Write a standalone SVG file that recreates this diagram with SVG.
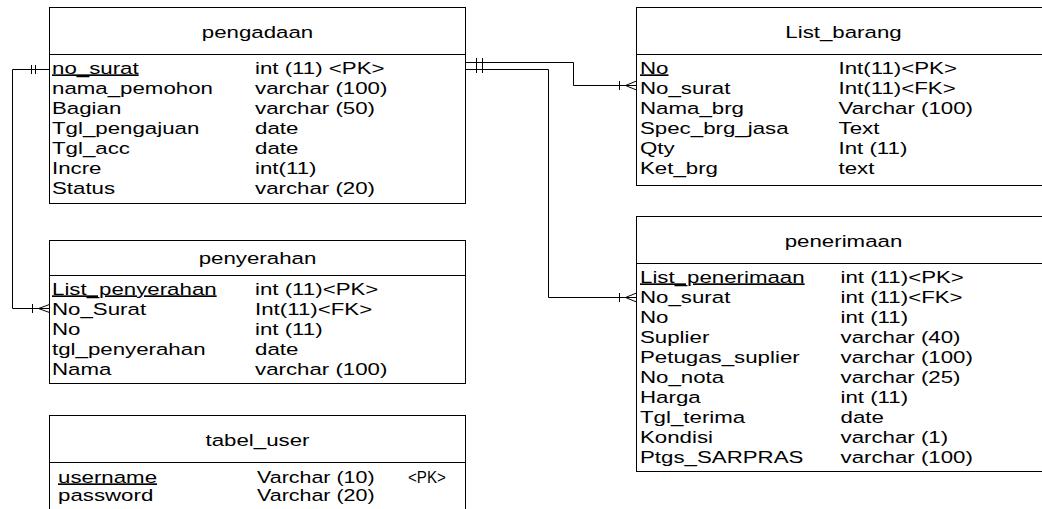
<svg xmlns="http://www.w3.org/2000/svg" width="1042" height="509" viewBox="0 0 1042 509">
<style>
.t{font-family:"Liberation Sans",Arial,sans-serif;font-size:16.5px;fill:#000}
.u{text-decoration:underline}
.c{text-anchor:middle}
.box{fill:#fff;stroke:#000;stroke-width:1}
.ln{fill:none;stroke:#000;stroke-width:1}
</style>
<rect width="1042" height="509" fill="#fff"/>
<g id="connectors" class="ln">
  <path d="M49.5 69.5H12.5V308.5H49.5"/>
  <path d="M31.5 65V74M35.5 65V74"/>
  <path d="M32.5 304V313M49.5 304.5L38.5 308.5L49.5 312.5"/>
  <path d="M465.5 62.5H573.5V85.5H636.5"/>
  <path d="M619.5 81V90M636.5 81L625.5 85.5L636.5 90"/>
  <path d="M465.5 69.5H548.5V297.5H636.5"/>
  <path d="M619.5 293V302M636.5 293L625.5 297.5L636.5 302"/>
  <path d="M476.5 58V73M482.5 58V73"/>
</g>
<g id="pengadaan">
  <rect class="box" x="49.5" y="7.5" width="416" height="196"/>
  <path class="ln" d="M49.5 54.5H465.5"/>
  <text class="t c" transform="translate(257.5 37.5) scale(1.35 1)">pengadaan</text>
  <text class="t u" transform="translate(52 73.5) scale(1.35 1)">no_surat</text>
  <text class="t" transform="translate(52 93.5) scale(1.35 1)">nama_pemohon</text>
  <text class="t" transform="translate(52 113.5) scale(1.35 1)">Bagian</text>
  <text class="t" transform="translate(52 133.5) scale(1.35 1)">Tgl_pengajuan</text>
  <text class="t" transform="translate(52 153.5) scale(1.35 1)">Tgl_acc</text>
  <text class="t" transform="translate(52 173.5) scale(1.35 1)">Incre</text>
  <text class="t" transform="translate(52 193.5) scale(1.35 1)">Status</text>
  <text class="t" transform="translate(255 73.5) scale(1.35 1)">int (11) &lt;PK&gt;</text>
  <text class="t" transform="translate(255 93.5) scale(1.35 1)">varchar (100)</text>
  <text class="t" transform="translate(255 113.5) scale(1.35 1)">varchar (50)</text>
  <text class="t" transform="translate(255 133.5) scale(1.35 1)">date</text>
  <text class="t" transform="translate(255 153.5) scale(1.35 1)">date</text>
  <text class="t" transform="translate(255 173.5) scale(1.35 1)">int(11)</text>
  <text class="t" transform="translate(255 193.5) scale(1.35 1)">varchar (20)</text>
</g>
<g id="List_barang">
  <rect class="box" x="636.5" y="7.5" width="414" height="178"/>
  <path class="ln" d="M636.5 54.5H1050"/>
  <text class="t c" transform="translate(843.5 37.5) scale(1.35 1)">List_barang</text>
  <text class="t u" transform="translate(640 73.5) scale(1.35 1)">No</text>
  <text class="t" transform="translate(640 93.5) scale(1.35 1)">No_surat</text>
  <text class="t" transform="translate(640 113.5) scale(1.35 1)">Nama_brg</text>
  <text class="t" transform="translate(640 133.5) scale(1.35 1)">Spec_brg_jasa</text>
  <text class="t" transform="translate(640 153.5) scale(1.35 1)">Qty</text>
  <text class="t" transform="translate(640 173.5) scale(1.35 1)">Ket_brg</text>
  <text class="t" transform="translate(838.5 73.5) scale(1.35 1)">Int(11)&lt;PK&gt;</text>
  <text class="t" transform="translate(838.5 93.5) scale(1.35 1)">Int(11)&lt;FK&gt;</text>
  <text class="t" transform="translate(838.5 113.5) scale(1.35 1)">Varchar (100)</text>
  <text class="t" transform="translate(838.5 133.5) scale(1.35 1)">Text</text>
  <text class="t" transform="translate(838.5 153.5) scale(1.35 1)">Int (11)</text>
  <text class="t" transform="translate(838.5 173.5) scale(1.35 1)">text</text>
</g>
<g id="penyerahan">
  <rect class="box" x="49.5" y="240.5" width="416" height="143"/>
  <path class="ln" d="M49.5 275.5H465.5"/>
  <text class="t c" transform="translate(257.5 263.5) scale(1.35 1)">penyerahan</text>
  <text class="t u" transform="translate(52 294.5) scale(1.35 1)">List_penyerahan</text>
  <text class="t" transform="translate(52 314.5) scale(1.35 1)">No_Surat</text>
  <text class="t" transform="translate(52 334.5) scale(1.35 1)">No</text>
  <text class="t" transform="translate(52 354.5) scale(1.35 1)">tgl_penyerahan</text>
  <text class="t" transform="translate(52 374.5) scale(1.35 1)">Nama</text>
  <text class="t" transform="translate(255 294.5) scale(1.35 1)">int (11)&lt;PK&gt;</text>
  <text class="t" transform="translate(255 314.5) scale(1.35 1)">Int(11)&lt;FK&gt;</text>
  <text class="t" transform="translate(255 334.5) scale(1.35 1)">int (11)</text>
  <text class="t" transform="translate(255 354.5) scale(1.35 1)">date</text>
  <text class="t" transform="translate(255 374.5) scale(1.35 1)">varchar (100)</text>
</g>
<g id="penerimaan">
  <rect class="box" x="636.5" y="216.5" width="414" height="255"/>
  <path class="ln" d="M636.5 263.5H1050"/>
  <text class="t c" transform="translate(843.5 246.5) scale(1.35 1)">penerimaan</text>
  <text class="t u" transform="translate(640 282.5) scale(1.35 1)">List_penerimaan</text>
  <text class="t" transform="translate(640 302.5) scale(1.35 1)">No_surat</text>
  <text class="t" transform="translate(640 322.5) scale(1.35 1)">No</text>
  <text class="t" transform="translate(640 342.5) scale(1.35 1)">Suplier</text>
  <text class="t" transform="translate(640 362.5) scale(1.35 1)">Petugas_suplier</text>
  <text class="t" transform="translate(640 382.5) scale(1.35 1)">No_nota</text>
  <text class="t" transform="translate(640 402.5) scale(1.35 1)">Harga</text>
  <text class="t" transform="translate(640 422.5) scale(1.35 1)">Tgl_terima</text>
  <text class="t" transform="translate(640 442.5) scale(1.35 1)">Kondisi</text>
  <text class="t" transform="translate(640 462.5) scale(1.35 1)">Ptgs_SARPRAS</text>
  <text class="t" transform="translate(840.5 282.5) scale(1.35 1)">int (11)&lt;PK&gt;</text>
  <text class="t" transform="translate(840.5 302.5) scale(1.35 1)">int (11)&lt;FK&gt;</text>
  <text class="t" transform="translate(840.5 322.5) scale(1.35 1)">int (11)</text>
  <text class="t" transform="translate(840.5 342.5) scale(1.35 1)">varchar (40)</text>
  <text class="t" transform="translate(840.5 362.5) scale(1.35 1)">varchar (100)</text>
  <text class="t" transform="translate(840.5 382.5) scale(1.35 1)">varchar (25)</text>
  <text class="t" transform="translate(840.5 402.5) scale(1.35 1)">int (11)</text>
  <text class="t" transform="translate(840.5 422.5) scale(1.35 1)">date</text>
  <text class="t" transform="translate(840.5 442.5) scale(1.35 1)">varchar (1)</text>
  <text class="t" transform="translate(840.5 462.5) scale(1.35 1)">varchar (100)</text>
</g>
<g id="tabel_user">
  <rect class="box" x="49.5" y="415.5" width="416" height="110"/>
  <path class="ln" d="M49.5 462.5H465.5"/>
  <text class="t c" transform="translate(257.5 445.5) scale(1.35 1)">tabel_user</text>
  <text class="t u" transform="translate(58 482.5) scale(1.35 1)">username</text>
  <text class="t" transform="translate(58 501) scale(1.35 1)">password</text>
  <text class="t" transform="translate(257 482.5) scale(1.3 1)">Varchar (10)</text>
  <text class="t" transform="translate(408 482.5) scale(1.35 1)" textLength="28" lengthAdjust="spacingAndGlyphs">&lt;PK&gt;</text>
  <text class="t" transform="translate(257 501) scale(1.3 1)">Varchar (20)</text>
</g>
</svg>
